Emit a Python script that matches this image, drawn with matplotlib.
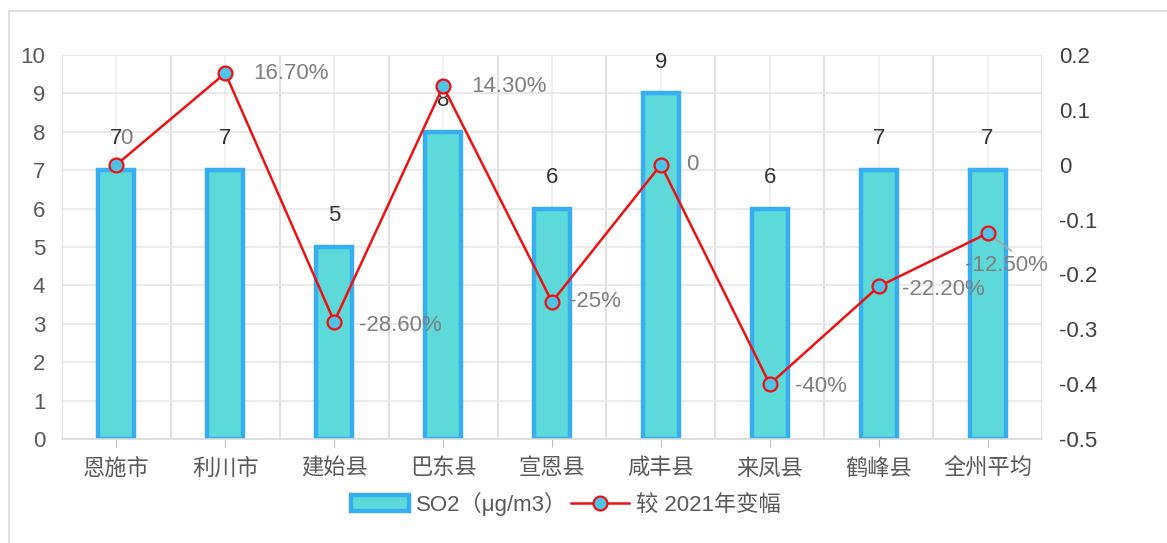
import numpy as np
import matplotlib.pyplot as plt
from matplotlib.lines import Line2D
from matplotlib.patches import Rectangle

plt.rcParams['font.family'] = ['Liberation Sans', 'Noto Sans CJK SC', 'DejaVu Sans']

cities = ['恩施市', '利川市', '建始县', '巴东县', '宣恩县', '咸丰县', '来凤县', '鹤峰县', '全州平均']
so2 = [7, 7, 5, 8, 6, 9, 6, 7, 7]
change = [0, 0.167, -0.286, 0.143, -0.25, 0, -0.4, -0.222, -0.125]
change_labels = ['0', '16.70%', '-28.60%', '14.30%', '-25%', '0', '-40%', '-22.20%', '-12.50%']

fig = plt.figure(figsize=(11.67, 5.43), dpi=100)
# outer frame
fig.patches.append(Rectangle((9 / 1167, -0.05), 1.2, 1 - 11 / 543 + 0.05, transform=fig.transFigure,
                             fill=False, edgecolor='#d9d9d9', linewidth=1.2))

ax = fig.add_axes([62 / 1167, 1 - 439 / 543, 980 / 1167, 384 / 543])
x = np.arange(len(cities))

ax.bar(x, so2, width=0.33, color='#5dd9d9', edgecolor='#36aef0', linewidth=3.2, zorder=2)
ax.set_xlim(-0.5, len(cities) - 0.5)
ax.set_ylim(0, 10)
ax.set_yticks(range(0, 11))
ax.set_xticks(x)
ax.set_xticklabels(cities, fontsize=16, color='#595959')
ax.set_xticks(np.arange(-0.5, len(cities), 1), minor=True)
ax.tick_params(axis='x', which='major', length=6, color='#bfbfbf', pad=8)
ax.tick_params(axis='x', which='minor', length=0)
ax.tick_params(axis='y', length=0, labelsize=16, labelcolor='#595959', pad=12)
ax.grid(axis='y', color='#e6e6e6', linewidth=1.2, zorder=0)
ax.grid(axis='x', which='minor', color='#d9d9d9', linewidth=1.2, zorder=0)
ax.grid(axis='x', which='major', color='#efefef', linewidth=1.2, zorder=0)
ax.set_axisbelow(True)
for s in ['top', 'left', 'right']:
    ax.spines[s].set_visible(False)
ax.spines['bottom'].set_color('#d9d9d9')
ax.spines['bottom'].set_linewidth(1.2)

for xi, v in zip(x, so2):
    ax.annotate(str(v), (xi, v), xytext=(0, 15), textcoords='offset points',
                ha='center', va='bottom', fontsize=16, color='#333333')

ax2 = ax.twinx()
ax2.plot(x, change, color='#ee1111', linewidth=1.8, marker='o', markersize=10,
         markerfacecolor='#4fc3e8', markeredgecolor='#ee1111', markeredgewidth=1.6, zorder=5)
ax2.set_ylim(-0.5, 0.2)
ax2.set_yticks(np.arange(-0.5, 0.21, 0.1))
ax2.set_yticklabels(['-0.5', '-0.4', '-0.3', '-0.2', '-0.1', '0', '0.1', '0.2'])
ax2.tick_params(axis='y', length=0, labelsize=16, labelcolor='#404040', pad=12)
for s in ['top', 'left', 'right', 'bottom']:
    ax2.spines[s].set_visible(False)

offsets = [(3, 19), (20, 0), (18, -3), (20, 0), (12, 0), (18, 0), (18, -2), (17, -2), (-16, -23)]
for i, (xi, v, lab) in enumerate(zip(x, change, change_labels)):
    ax2.annotate(lab, (xi, v), xytext=offsets[i], textcoords='offset points',
                 ha='left', va='center', fontsize=16, color='#7f7f7f', zorder=6)
ax2.annotate('', (x[-1], change[-1]), xytext=(x[-1] + 0.24, change[-1] - 0.035),
             arrowprops=dict(arrowstyle='-', color='#a6a6a6', linewidth=1.2))

handles = [Rectangle((0, 0), 1, 1, facecolor='#5dd9d9', edgecolor='#36aef0', linewidth=3.2),
           Line2D([0], [0], color='#ee1111', linewidth=1.8, marker='o', markersize=10,
                  markerfacecolor='#4fc3e8', markeredgecolor='#ee1111', markeredgewidth=1.6)]
fig.legend(handles, ['SO2（μg/m3）', '较 2021年变幅'], loc='center', bbox_to_anchor=(0.485, 1 - 504 / 543),
           ncol=2, frameon=False, fontsize=16, labelcolor='#595959', handlelength=2.6,
           columnspacing=0.2, handletextpad=0.3)

fig.savefig('out.png', dpi=100)
